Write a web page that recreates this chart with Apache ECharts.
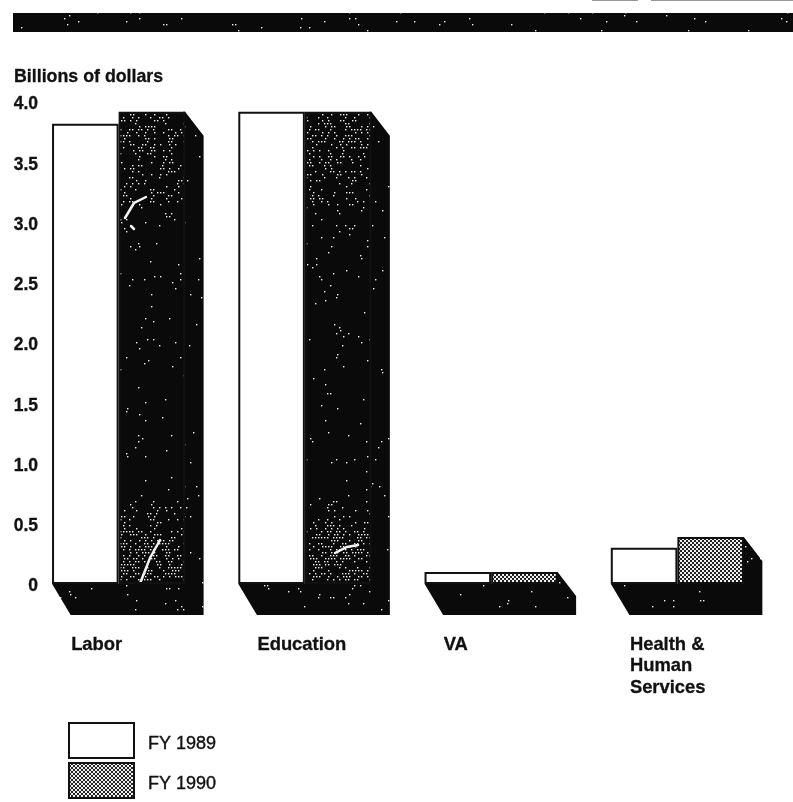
<!DOCTYPE html>
<html><head><meta charset="utf-8">
<style>html,body{margin:0;padding:0;background:#fff}#c{width:793px;height:802px}</style>
<script src="https://cdn.jsdelivr.net/npm/echarts@6/dist/echarts.min.js"></script>
</head><body><div id="c"></div>
<script>
const categories = ['Labor','Education','VA','Health &\nHuman\nServices'];
const fy1989 = [3.82,3.92,0.10,0.30];
const fy1990 = [3.92,3.92,0.10,0.39];
const seriesNames = ['FY 1989','FY 1990'];
const yTicks = ['0','0.5','1.0','1.5','2.0','2.5','3.0','3.5','4.0'];
const axisTitle = 'Billions of dollars';

function hash(x,y){let h=(x*73856093)^(y*19349663);h=(h^(h>>>13))*1274126177;h=h^(h>>>16);return ((h>>>0)%1000)/1000;}
function checker(){
  const c=document.createElement('canvas');c.width=4;c.height=4;const g=c.getContext('2d');
  g.fillStyle='#222';g.fillRect(0,0,4,4);
  g.fillStyle='#f0f0f0';g.fillRect(0,0,2,2);g.fillRect(2,2,2,2);
  return c;
}
function scanned(pFn,scratches){
  const c=document.createElement('canvas');c.width=793;c.height=802;const g=c.getContext('2d');
  g.fillStyle='#0a0a0a';g.fillRect(0,0,793,802);
  g.fillStyle='#f0f0f0';
  for(let y=0;y<802;y+=3)for(let x=(y%2?0:1);x<793;x+=3){
    if(hash(x,y)<pFn(x,y))g.fillRect(x,y,1.4,1.4);
  }
  g.strokeStyle='#f4f4f4';g.lineWidth=2.5;g.lineCap='round';
  (scratches||[]).forEach(s=>{g.beginPath();s.forEach((p,i)=>i?g.lineTo(p[0],p[1]):g.moveTo(p[0],p[1]));g.stroke();});
  return c;
}
const patChecker={image:checker(),repeat:'repeat'};
const patBar={image:scanned((x,y)=>y<150?0.36:y<205?0.22:y<300?0.05:y<500?0.03:y<530?0.22:0.5,
  [[[125,218],[134,203],[146,197]],[[131,226],[134,229]],[[139,586],[150,558],[160,540]],[[335,553],[347,547],[358,545]]]),repeat:'no-repeat'};
const patSide={image:scanned(()=>0.03),repeat:'no-repeat'};

const chart=echarts.init(document.getElementById('c'),null,{renderer:'canvas'});
function depth(params,api){
  const i=params.dataIndex;
  const top=api.coord([i,api.value(1)]);
  const base=api.coord([i,0]);
  const bw=api.size([1,0])[0]*133/186.3;
  const x0=base[0]-bw/2,x2=base[0]+bw/2,dx=18.5,dyTop=24,dyBase=31;
  return {type:'polygon',shape:{points:[[x0,base[1]],[x0+dx,base[1]+dyBase],[x2+dx,base[1]+dyBase],[x2+dx,top[1]+dyTop],[x2,top[1]],[x2-2,top[1]],[x2-2,base[1]]]},style:{fill:patSide}};
}
const barStyle={type:'bar',barGap:0,barCategoryGap:'28.5%',silent:true,z:3};
const ink={color:'#111',textBorderColor:'#111',textBorderWidth:0.3};
chart.setOption({
  animation:false,backgroundColor:'#fff',
  title:{text:axisTitle,left:14,top:68,padding:0,textStyle:Object.assign({fontFamily:'Liberation Sans',fontWeight:'bold',fontSize:17.8},ink)},
  grid:{left:25.5,width:745,top:102,height:482},
  legend:{orient:'vertical',left:68,top:722,padding:0,itemWidth:65,itemHeight:35,itemGap:3,selectedMode:false,icon:'rect',
    formatter:n=>'{a|'+n+'}',
    textStyle:{rich:{a:{fontFamily:'Liberation Sans',fontWeight:'normal',fontSize:18,color:'#111',textBorderColor:'#111',textBorderWidth:0.4,padding:[7,0,0,9]}}},data:seriesNames},
  xAxis:{type:'category',data:categories,axisLine:{show:false},axisTick:{show:false},
    axisLabel:{interval:0,margin:50,formatter:v=>v.split('\n').map(s=>'{a|'+s+'}').join('\n'),
      rich:{a:Object.assign({width:95,align:'left',lineHeight:21.5,fontFamily:'Liberation Sans',fontWeight:'bold',fontSize:18.4},ink)}}},
  yAxis:{type:'value',min:0,max:4,interval:0.5,splitLine:{show:false},axisLine:{show:false},axisTick:{show:false},
    axisLabel:Object.assign({margin:-12.5,align:'right',verticalAlign:'top',lineHeight:5,formatter:v=>yTicks[Math.round(v*2)],fontFamily:'Liberation Sans',fontWeight:'bold',fontSize:17.5},ink)},
  series:[
    {type:'custom',silent:true,z:1,renderItem:depth,encode:{x:0,y:1},data:fy1990.map((v,i)=>[i,v])},
    Object.assign({},barStyle,{name:seriesNames[0],data:fy1989,itemStyle:{color:'#fff',borderColor:'#111',borderWidth:2}}),
    Object.assign({},barStyle,{name:seriesNames[1],
      data:fy1990.map((v,i)=>i<2?{value:v,itemStyle:{color:patBar}}:v),
      itemStyle:{color:patChecker,borderColor:'#111',borderWidth:2}})
  ],
  graphic:[
    {type:'rect',shape:{x:13,y:13,width:780,height:19},style:{fill:patSide},z:10},
    {type:'rect',shape:{x:592,y:0,width:46,height:1},style:{fill:'#999'},z:10},
    {type:'rect',shape:{x:651,y:0,width:142,height:1},style:{fill:'#999'},z:10}
  ]
});
</script></body></html>
